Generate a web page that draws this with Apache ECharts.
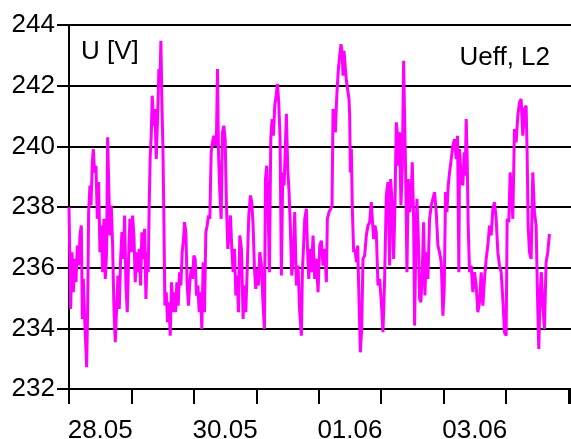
<!DOCTYPE html>
<html>
<head>
<meta charset="utf-8">
<script src="https://cdn.jsdelivr.net/npm/echarts@6/dist/echarts.min.js"></script>
<style>
  html, body { margin: 0; padding: 0; background: #fff; }
  #chart { width: 571px; height: 439px; }
</style>
</head>
<body>
<div id="chart"></div>
<script>
// Elapsed time since 28.05 00:00, in hours
const hours = [
  0.00, 0.64, 1.15, 1.66, 2.30, 2.69, 3.20, 3.71, 4.22, 4.74, 5.12, 5.50, 6.02, 6.40, 6.78, 7.17, 7.55, 8.06, 8.45, 8.96,
  9.34, 9.86, 10.37, 10.88, 11.39, 11.90, 12.42, 12.93, 13.44, 13.95, 14.46, 14.85, 15.36, 15.74, 16.26, 16.77, 17.28, 17.79, 18.30, 18.82,
  19.33, 19.84, 20.35, 20.86, 21.38, 21.89, 22.40, 22.91, 23.42, 23.94, 24.45, 24.96, 25.47, 25.98, 26.50, 27.01, 27.52, 28.03, 28.54, 29.06,
  29.57, 30.08, 30.46, 30.85, 31.23, 31.62, 32.00, 32.51, 33.02, 33.54, 34.05, 34.56, 34.94, 35.33, 35.71, 36.10, 36.48, 36.86, 37.38, 37.89,
  38.40, 38.91, 39.42, 39.94, 40.45, 40.96, 41.47, 41.98, 42.50, 43.01, 43.52, 44.03, 44.42, 44.93, 45.44, 45.95, 46.46, 46.98, 47.49, 48.00,
  48.51, 49.02, 49.54, 50.05, 50.56, 51.07, 51.58, 52.10, 52.61, 53.12, 53.63, 54.14, 54.66, 55.17, 55.68, 56.19, 56.70, 57.09, 57.47, 57.98,
  58.50, 59.01, 59.52, 60.03, 60.54, 61.06, 61.57, 62.08, 62.59, 63.10, 63.62, 64.13, 64.64, 65.15, 65.66, 66.30, 66.94, 67.33, 67.97, 68.48,
  69.12, 69.76, 70.27, 70.78, 71.30, 71.81, 72.32, 72.83, 73.34, 73.98, 74.62, 75.14, 75.52, 76.03, 76.54, 77.06, 77.57, 78.08, 78.59, 79.10,
  79.62, 80.13, 80.64, 81.15, 81.66, 82.18, 82.69, 83.20, 83.58, 84.10, 84.61, 85.12, 85.63, 86.14, 86.78, 87.42, 88.06, 88.70, 89.34, 89.73,
  90.63, 91.27, 91.65, 92.17, 92.68, 93.19, 93.83, 94.47, 95.11, 95.75, 96.39, 97.03, 97.67, 98.31, 98.95, 99.33, 99.97, 100.61, 101.13, 101.51,
  102.02, 102.41, 102.79, 103.17, 103.56, 104.07, 104.58, 104.97, 105.35, 105.73, 106.12, 106.63, 107.27, 107.65, 107.91, 108.17, 108.55, 108.93, 109.45, 109.96,
  110.47, 110.98, 111.49, 112.01, 112.52, 113.03, 113.67, 114.31, 114.95, 115.59, 116.23, 116.61, 117.13, 117.64, 118.15, 118.79, 119.43, 120.07, 120.71, 121.35,
  121.99, 122.63, 123.27, 123.65, 124.29, 124.81, 125.32, 125.83, 126.34, 126.73, 127.11, 127.62, 128.13, 128.65, 129.03, 129.41, 129.93, 130.44, 130.95, 131.46,
  131.97, 132.49, 132.87, 133.25, 133.77, 134.28, 134.79, 135.30, 135.81, 136.33, 136.84, 137.35, 137.99, 138.63, 139.27, 139.91, 140.55, 141.19, 141.83, 142.47,
  143.11, 143.75, 144.26, 144.77, 145.29, 145.80, 146.31, 146.95, 147.59, 148.23, 148.87, 149.38, 149.89, 150.15, 150.79, 151.43, 151.94, 152.33, 152.71, 153.09,
  153.48, 153.99, 154.63, 155.27, 155.91, 156.55, 157.19, 157.83, 158.47, 159.11, 159.75, 160.39, 161.03, 161.67, 162.31, 162.95, 163.59, 164.23, 164.87, 165.51,
  166.15, 166.79, 167.43, 168.07, 168.45, 169.09, 169.61, 170.12, 170.63, 171.27, 171.91, 172.55, 173.19, 173.83, 174.47, 175.11, 175.75, 176.13, 176.52, 177.03,
  177.67, 178.31, 178.95, 179.59, 180.23, 180.61, 181.13, 181.64, 182.15, 182.79, 183.43, 184.07, 184.71
];

// RMS voltage of phase L2, in volts
const volts = [
  237.99, 234.64, 236.51, 235.19, 236.29, 235.52, 236.73, 236.07, 237.06, 237.39, 234.31, 235.63, 234.31, 233.54, 232.72, 234.64, 237.83, 238.71, 238.05, 239.47,
  239.91, 239.14, 239.36, 237.61, 238.82, 236.51, 237.39, 235.85, 237.61, 235.63, 236.51, 240.30, 240.24, 237.06, 238.05, 236.73, 234.64, 233.54, 234.64, 235.74,
  234.64, 236.29, 237.17, 236.29, 237.72, 235.41, 234.53, 236.29, 237.61, 236.51, 237.72, 237.06, 235.52, 236.51, 235.85, 236.62, 235.41, 237.17, 236.29, 237.28,
  234.97, 236.51, 235.85, 238.16, 239.69, 240.35, 241.67, 240.68, 241.23, 239.58, 240.90, 242.55, 242.00, 243.48, 241.45, 240.02, 237.61, 234.75, 235.19, 234.20,
  234.86, 233.76, 235.52, 234.53, 235.19, 234.53, 235.52, 234.75, 235.85, 235.41, 236.51, 236.95, 237.50, 237.17, 235.41, 234.75, 235.52, 235.96, 235.63, 236.40,
  236.29, 235.08, 235.41, 234.53, 235.19, 233.98, 236.18, 234.53, 237.17, 237.39, 237.72, 237.61, 239.80, 240.13, 240.35, 240.02, 240.35, 242.55, 239.80, 238.49,
  237.61, 240.46, 240.68, 240.24, 238.05, 236.62, 237.17, 237.72, 236.62, 235.85, 236.62, 235.08, 235.74, 234.53, 237.06, 236.62, 234.31, 235.41, 234.53, 235.85,
  237.72, 238.38, 238.16, 237.39, 235.96, 235.30, 235.96, 235.41, 236.51, 236.07, 234.75, 233.98, 238.92, 239.36, 237.94, 235.85, 240.24, 240.90, 240.35, 241.34,
  241.67, 242.06, 241.45, 240.24, 235.74, 239.14, 238.71, 240.02, 241.07, 239.25, 238.49, 237.28, 235.74, 236.29, 237.83, 235.41, 236.07, 234.53, 233.76, 235.85,
  237.61, 237.94, 236.73, 235.63, 236.62, 235.85, 237.06, 235.63, 236.29, 235.19, 236.73, 236.89, 236.07, 236.62, 235.52, 237.61, 237.83, 237.94, 238.05, 241.23,
  240.90, 240.46, 241.34, 242.00, 242.55, 242.99, 243.37, 243.10, 242.33, 243.15, 243.10, 242.17, 242.17, 241.56, 241.01, 239.14, 239.91, 237.94, 236.51, 236.62,
  236.18, 236.73, 234.97, 233.21, 233.98, 236.29, 236.40, 237.06, 237.39, 237.50, 238.16, 237.61, 236.95, 237.39, 237.17, 235.41, 235.63, 234.86, 233.87, 235.63,
  238.38, 238.82, 236.07, 238.92, 238.05, 236.29, 238.05, 240.79, 240.35, 239.36, 240.46, 238.05, 239.25, 242.82, 240.90, 239.25, 235.85, 238.92, 237.83, 238.16,
  239.47, 237.61, 234.09, 236.29, 238.27, 237.06, 234.97, 234.86, 235.85, 237.50, 235.08, 236.51, 235.63, 237.61, 238.05, 238.05, 238.49, 237.83, 236.73, 236.51,
  236.18, 234.42, 235.30, 238.49, 237.83, 238.71, 239.14, 239.58, 240.02, 240.24, 239.58, 240.35, 235.85, 239.91, 238.92, 238.71, 239.80, 239.03, 240.90, 239.58,
  237.39, 235.85, 236.07, 235.19, 235.85, 235.41, 234.53, 234.86, 235.85, 234.75, 235.63, 236.29, 236.73, 237.39, 237.06, 237.94, 238.16, 237.61, 236.51, 236.07,
  235.85, 234.97, 233.87, 233.76, 237.61, 237.50, 239.14, 238.49, 237.61, 240.57, 240.13, 241.01, 241.45, 241.56, 240.35, 241.23, 241.34, 239.80, 237.39, 236.51,
  236.29, 239.14, 237.83, 237.39, 234.64, 233.32, 235.19, 235.85, 234.75, 233.98, 236.18, 236.51, 237.11
];

// Date labels, each placed at noon of its day (hours since 28.05 00:00)
const dayLabels = ['28.05', '30.05', '01.06', '03.06'];
const dayLabelHours = [12, 60, 108, 156];

// Value axis range and step
const yMin = 232, yMax = 244, yStep = 2;
const xMax = 193;

const FONT = 'Liberation Sans, Arial, sans-serif';
const FS = 26;
const chart = echarts.init(document.getElementById('chart'), null, { renderer: 'canvas' });

chart.setOption({
  animation: false,
  backgroundColor: '#ffffff',
  title: [
    { text: 'U [V]', left: 81, top: 39, padding: 0,
      textStyle: { fontFamily: FONT, fontSize: FS, fontWeight: 'normal', color: '#000' } },
    { text: 'Ueff, L2', right: 21, top: 45, padding: 0,
      textStyle: { fontFamily: FONT, fontSize: FS, fontWeight: 'normal', color: '#000' } }
  ],
  grid: { left: 69, right: 0, top: 25, bottom: 50, containLabel: false, outerBoundsMode: 'none' },
  xAxis: [
    {
      // day boundaries: ticks only
      type: 'value', position: 'bottom', min: 0, max: xMax, interval: 24,
      axisLine: { lineStyle: { color: '#000', width: 2 } },
      axisTick: { show: true, length: 15, lineStyle: { color: '#000', width: 2 } },
      axisLabel: { show: false },
      splitLine: { show: false }
    },
    {
      // date labels centred on each day
      type: 'value', position: 'bottom', min: 0, max: xMax, interval: 12,
      axisLine: { show: false },
      axisTick: { show: false },
      splitLine: { show: false },
      axisLabel: {
        show: true, margin: 29, fontFamily: FONT, fontSize: FS, color: '#000',
        showMinLabel: true, showMaxLabel: false, hideOverlap: false,
        formatter: function (v) {
          const i = dayLabelHours.indexOf(Math.round(v));
          return i >= 0 ? dayLabels[i] : '';
        }
      }
    }
  ],
  yAxis: {
    type: 'value', min: yMin, max: yMax, interval: yStep,
    axisLine: { show: true, lineStyle: { color: '#000', width: 2 } },
    axisTick: { show: true, length: 12, lineStyle: { color: '#000', width: 2 } },
    axisLabel: { margin: 14, fontFamily: FONT, fontSize: FS, color: '#000' },
    splitLine: { show: true, lineStyle: { color: '#000', width: 2 } }
  },
  series: [{
    type: 'line',
    xAxisIndex: 0,
    data: hours.map((h, i) => [h, volts[i]]),
    showSymbol: false,
    symbol: 'none',
    lineStyle: { color: '#ff00ff', width: 3 },
    z: 3
  }]
});
</script>
</body>
</html>
